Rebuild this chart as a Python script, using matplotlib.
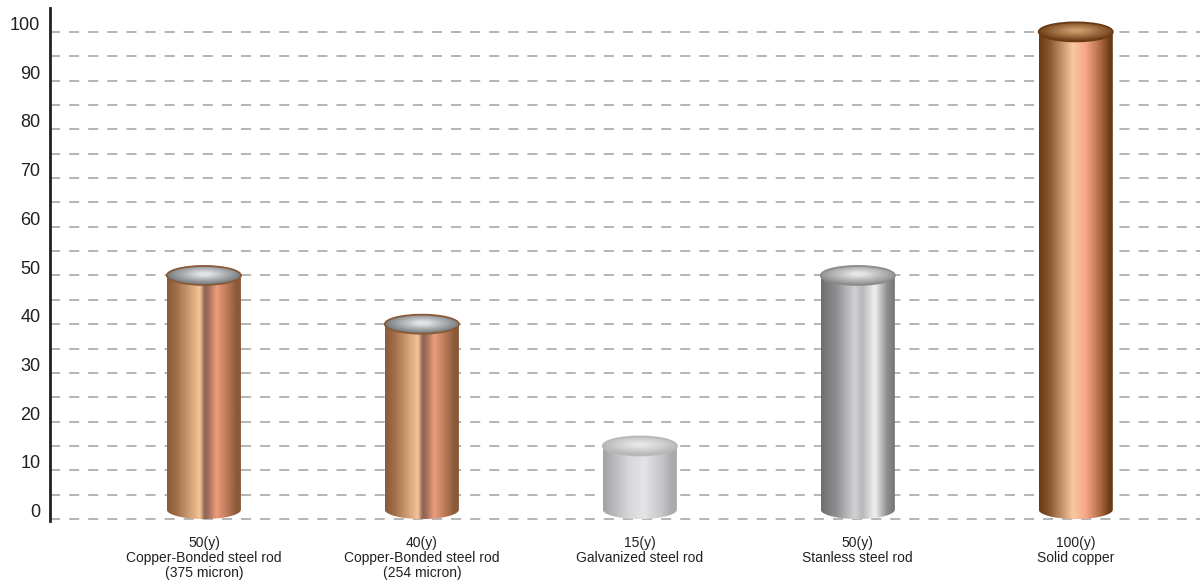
#!/usr/bin/env python3
# -*- coding: utf-8 -*-
import numpy as np
import matplotlib as mpl
import matplotlib.pyplot as plt
from matplotlib.colors import LinearSegmentedColormap
from matplotlib.patches import Ellipse, Polygon
import matplotlib.transforms as mtransforms

plt.rcParams['font.family'] = ['Liberation Sans', 'DejaVu Sans']

# data
lifetimes = [50, 40, 15, 50, 100]
life_labels = ['50(y)', '40(y)', '15(y)', '50(y)', '100(y)']
rod_names = ['Copper-Bonded steel rod\n(375 micron)',
             'Copper-Bonded steel rod\n(254 micron)',
             'Galvanized steel rod',
             'Stanless steel rod',
             'Solid copper']
y_ticks = list(range(0, 101, 10))
grid_levels = list(range(0, 101, 5))

# look of each cylinder: side gradient stops, top centre/edge colour, rim colour
copper_side = [(0, '#8a5a38'), (0.12, '#a06c48'), (0.44, '#f4c596'), (0.5, '#8f6656'),
               (0.54, '#9a6a58'), (0.66, '#ec9c7c'), (0.82, '#b47654'), (0.93, '#8a5a38'), (1, '#8a5a38')]
galv_side = [(0, '#a2a2a4'), (0.35, '#d8d8da'), (0.55, '#e4e4e6'), (0.8, '#c4c4c6'),
             (0.9, '#acacae'), (1, '#a8a8aa')]
steel_side = [(0, '#6e6e70'), (0.2, '#8e8e90'), (0.45, '#d2d2d4'), (0.55, '#b8b8ba'),
              (0.72, '#f0f0f0'), (0.88, '#909092'), (1, '#707072')]
solid_side = [(0, '#6a3a14'), (0.15, '#8c5a30'), (0.45, '#f8c8a0'), (0.62, '#f8a888'),
              (0.8, '#b87048'), (0.95, '#6a3a14'), (1, '#6a3a14')]
sides = [copper_side, copper_side, galv_side, steel_side, solid_side]
tops = [('#e2e4e6', '#6a7074', '#8a5a38'),
        ('#e2e4e6', '#6a7074', '#8a5a38'),
        ('#e8e8e8', '#b4b4b6', '#b8b8ba'),
        ('#e6e6e6', '#8a8a8c', '#8c8c8e'),
        ('#cc9a6a', '#6a3a14', '#6a3a14')]

fig = plt.figure(figsize=(12, 5.82), dpi=100)
ax = fig.add_axes([50 / 1200, 61 / 582, 1150 / 1200, 513 / 582])

x = np.arange(len(lifetimes))
w = 0.34     # cylinder width in x units
ry = 1.95    # half height of the end ellipses in y units

# dashed grid behind the rods
for g in grid_levels:
    ax.axhline(g, color='#a0a0a0', lw=1.1, dashes=(6.6, 5.9), zorder=0)

grad = np.linspace(0, 1, 256).reshape(1, -1)
yy, xx = np.mgrid[-1:1:200j, -1:1:200j]
rr = np.clip(np.sqrt(xx ** 2 + (yy - 0.1) ** 2) / 1.1, 0, 1)

for i in range(len(lifetimes)):
    v = lifetimes[i]
    x0, x1 = x[i] - w / 2, x[i] + w / 2
    cmap = LinearSegmentedColormap.from_list('side%d' % i, sides[i])

    # side of the cylinder: rectangle plus lower half of the bottom ellipse
    t = np.linspace(np.pi, 2 * np.pi, 60)
    arc = np.column_stack([x[i] + w / 2 * np.cos(t), ry + ry * np.sin(t)])
    outline = np.vstack([[x0, v], arc, [x1, v]])
    body = Polygon(outline, closed=True, facecolor='none', edgecolor='none')
    ax.add_patch(body)
    im = ax.imshow(grad, cmap=cmap, extent=(x0, x1, 0, v), aspect='auto',
                   interpolation='bilinear', zorder=2)
    im.set_clip_path(body)

    # top ellipse with a radial shade
    c_mid, c_edge, c_rim = tops[i]
    tcmap = LinearSegmentedColormap.from_list('top%d' % i, [(0, c_mid), (0.12, c_mid), (1, c_edge)])
    top = Ellipse((x[i], v), w, 2 * ry, facecolor='none', edgecolor=c_rim, lw=1.3, zorder=4)
    ax.add_patch(top)
    tim = ax.imshow(rr, cmap=tcmap, extent=(x0, x1, v - ry, v + ry), origin='lower',
                    aspect='auto', interpolation='bilinear', zorder=3)
    tim.set_clip_path(top)

ax.set_aspect('auto')
ax.set_xlim(-0.706, 4.57)
ax.set_ylim(-0.4, 104.9)

for s in ['top', 'right', 'bottom']:
    ax.spines[s].set_visible(False)
ax.spines['left'].set_linewidth(2)
ax.spines['left'].set_color('#231f20')

ax.set_yticks(y_ticks)
ax.set_yticklabels([str(v) for v in y_ticks], fontsize=13, color='#231f20')
ax.tick_params(axis='y', length=0, pad=7)
shift = mtransforms.ScaledTranslation(0, 6 / 72, fig.dpi_scale_trans)
for lab in ax.get_yticklabels():
    lab.set_transform(lab.get_transform() + shift)

ax.set_xticks(x)
ax.set_xticklabels([a + '\n' + b for a, b in zip(life_labels, rod_names)],
                   fontsize=10, color='#231f20', linespacing=1.1, va='top')
ax.tick_params(axis='x', length=0, pad=11)

plt.savefig('out.png', dpi=100)
